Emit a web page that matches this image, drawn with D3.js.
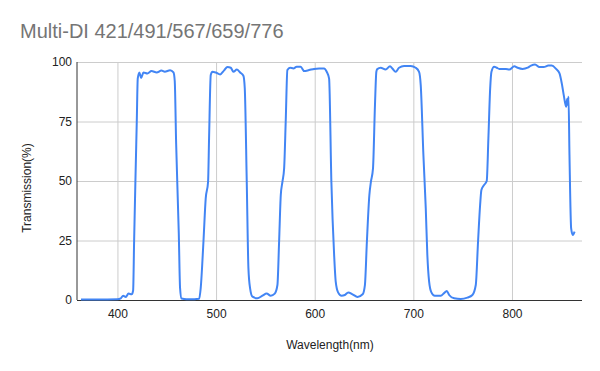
<!DOCTYPE html>
<html>
<head>
<meta charset="utf-8">
<script src="https://cdn.jsdelivr.net/npm/d3@7"></script>
<style>
  body { margin: 0; background: #fff; }
  svg { font-family: Arial, "Liberation Sans", sans-serif; }
</style>
</head>
<body>
<svg width="600" height="371"></svg>
<script>
const w = 600;
const h = 371;

const wavelength = [
  363, 380, 400, 403.4, 405.8, 408.5, 411.2, 414.5, 415.9, 416.9, 418.2, 419.6, 420.6, 422.3, 424, 426.4,
  430.4, 434.5, 439.8, 444.6, 448, 453.4, 456.8, 458.1, 459.5, 462.2, 463.5, 465, 470, 478, 482.8, 484.4,
  487.2, 489.5, 491.9, 492.9, 494.6, 496.3, 499.7, 504.1, 508.2, 511.5, 514.9, 517.6, 521, 524.4, 527.7,
  529.1, 531.1, 532.8, 534.5, 536.9, 541.9, 547, 551.3, 555.4, 559.5, 562.2, 563.9, 565.6, 567.3, 569,
  570.6, 572.3, 575, 578.4, 581.7, 585.8, 589.3, 594.3, 599.4, 604.5, 609.5, 612.2, 614.6, 616.9, 619.7,
  621.3, 623.7, 627.2, 630.5, 634, 638.4, 643.4, 648.6, 650.9, 652.9, 655.4, 657, 659.1, 661.1, 662.5,
  663.4, 666.9, 671.9, 676.4, 678.7, 682.1, 685.5, 690.6, 697.3, 702.4, 705.8, 707.5, 710.2, 712.6, 714.2,
  716, 718.3, 721.7, 727.8, 731.2, 733.9, 736.3, 741.4, 748.1, 754.8, 759.9, 763.3, 765.6, 767.7, 769,
  771.7, 774.4, 776.1, 777.9, 779.2, 781.9, 784.6, 787.1, 793.8, 797.3, 802.4, 805.7, 810.8, 815.9, 819.3,
  823.4, 827.8, 832.2, 836.9, 840.3, 844.7, 848.2, 850.5, 852.5, 854.9, 855.9, 856.6, 857.3, 858.3, 860,
  861.7, 863.5
];
const transmission = [
  0.2, 0.2, 0.3, 0.7, 1.8, 1.3, 2.7, 2.4, 4, 24.5, 49.7, 74.9, 93.1, 95.6, 93.3, 95.6,
  95.2, 96.2, 95.6, 96.4, 95.9, 96.5, 95.6, 92, 66, 28, 5, 0.6, 0.3, 0.3, 0.5, 4.9,
  24.5, 42.7, 49.7, 67.9, 94.5, 95.9, 95.6, 94.8, 96.5, 97.9, 97.6, 95.9, 96.8, 95.6, 94.2,
  88.9, 49.7, 13.3, 4.9, 1.4, 0.7, 1.8, 2.7, 1.8, 2.7, 6.3, 24.5, 44, 49.7, 55.3,
  74.9, 96.6, 97.6, 97.3, 98, 98, 96.2, 96.6, 97.1, 97.3, 97.3, 95.9, 93, 49.7, 18.9,
  7.7, 3.2, 1.8, 2.1, 3.2, 2.4, 1.3, 2.4, 6.3, 24.5, 44, 49.7, 55.3, 81.9, 95.9,
  97, 97.6, 96.8, 98.2, 97.3, 95.9, 97.6, 98.3, 98.3, 97.6, 95.9, 90.3, 60.9, 38.5, 18.9,
  7.7, 3.2, 1.8, 1.8, 2.9, 3.8, 2.1, 0.7, 0.4, 1, 2.1, 6.3, 24.5, 39.9, 46.2,
  48.3, 50, 68, 88.9, 95.9, 98, 97.6, 97.1, 97.1, 96.8, 98.2, 97.6, 97.1, 97.6, 98.5,
  99, 97.9, 97.9, 98.5, 98.5, 97.1, 95.2, 91, 86.1, 81.2, 84.5, 82, 85.4, 60.9, 30.1,
  27.3, 28.7
];
const xTicks = [400, 500, 600, 700, 800];
const yTicks = [0, 25, 50, 75, 100];

const plotLeft = 77, plotRight = 582, plotTop = 62, plotBottom = 300;

const points = wavelength.map((d, i) => [d, transmission[i]]);

const canvas = d3.select('svg');

const xScale = d3.scaleLinear().domain([359, 871]).range([plotLeft, plotRight]);
const yScale = d3.scaleLinear().domain([0, 100]).range([plotBottom, plotTop]);

// title
canvas.append('text')
  .attr('x', 20)
  .attr('y', 38)
  .attr('fill', '#757575')
  .attr('font-size', '20px')
  .text('Multi-DI 421/491/567/659/776');

// x axis + vertical grid
const xAxis = canvas.append('g')
  .attr('transform', `translate(0,${plotBottom})`)
  .call(d3.axisBottom(xScale).tickValues(xTicks).tickSizeInner(-(plotBottom - plotTop)).tickSizeOuter(0).tickPadding(9));
xAxis.select('.domain').remove();
xAxis.selectAll('.tick line').attr('stroke', '#cccccc');
xAxis.selectAll('.tick text').attr('font-size', '12px').attr('fill', '#222').attr('font-family', 'Arial, "Liberation Sans", sans-serif');

// y axis + horizontal grid
const yAxis = canvas.append('g')
  .attr('transform', `translate(${plotLeft},0)`)
  .call(d3.axisLeft(yScale).tickValues(yTicks).tickSizeInner(-(plotRight - plotLeft)).tickSizeOuter(0).tickPadding(5));
yAxis.select('.domain').remove();
yAxis.selectAll('.tick line').attr('stroke', (d) => d === 0 ? 'none' : '#cccccc');
yAxis.selectAll('.tick text').attr('font-size', '12px').attr('fill', '#222').attr('font-family', 'Arial, "Liberation Sans", sans-serif');

// axis lines
canvas.append('line')
  .attr('x1', plotLeft).attr('x2', plotLeft).attr('y1', plotTop).attr('y2', plotBottom)
  .attr('stroke', '#333');
canvas.append('line')
  .attr('x1', plotLeft).attr('x2', plotRight).attr('y1', plotBottom + 0.5).attr('y2', plotBottom + 0.5)
  .attr('stroke', '#333');

// curve
const line = d3.line()
  .x((d) => xScale(d[0]))
  .y((d) => yScale(d[1]))
  .curve(d3.curveMonotoneX);

canvas.append('path')
  .datum(points)
  .attr('d', line)
  .attr('fill', 'none')
  .attr('stroke', '#4285f4')
  .attr('stroke-width', 2)
  .attr('stroke-linejoin', 'round');

// axis titles
canvas.append('text')
  .attr('x', 330)
  .attr('y', 349)
  .attr('text-anchor', 'middle')
  .attr('font-size', '12px')
  .attr('fill', '#222')
  .text('Wavelength(nm)');

canvas.append('text')
  .attr('transform', `translate(31,188) rotate(-90)`)
  .attr('text-anchor', 'middle')
  .attr('font-size', '12px')
  .attr('fill', '#222')
  .text('Transmission(%)');
</script>
</body>
</html>
